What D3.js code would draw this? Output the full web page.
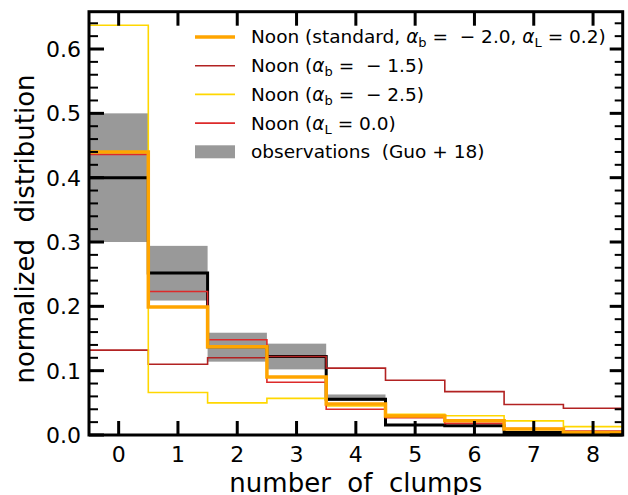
<!DOCTYPE html>
<html>
<head>
<meta charset="utf-8">
<script src="https://cdn.jsdelivr.net/npm/d3@7"></script>
<style>
body { margin: 0; background: #fff; }
text { font-family: "DejaVu Sans", sans-serif; fill: #000; }
</style>
</head>
<body>
<div id="chart"></div>
<script>
// clump number bins
var bins = [0, 1, 2, 3, 4, 5, 6, 7, 8];

// observations (Guo+18): value and band
var obsValue = [0.400, 0.252, 0.137, 0.122, 0.0556, 0.0155, 0.0145, 0.004, 0.002];
var obsLow   = [0.300, 0.209, 0.114, 0.102, 0.053, 0.0155, 0.0145, 0.004, 0.002];
var obsHigh  = [0.500, 0.294, 0.159, 0.142, 0.063, 0.0155, 0.0145, 0.004, 0.002];

// model runs
var standard = [0.440, 0.199, 0.137, 0.090, 0.048, 0.0296, 0.022, 0.0093, 0.004];
var alphaB15 = [0.132, 0.110, 0.120, 0.122, 0.104, 0.085, 0.0675, 0.0475, 0.0416];
var alphaB25 = [0.637, 0.066, 0.050, 0.057, 0.045, 0.032, 0.030, 0.022, 0.013];
var alphaL00 = [0.436, 0.223, 0.148, 0.082, 0.040, 0.027, 0.018, 0.010, 0.006];

var yTicks = [0.0, 0.1, 0.2, 0.3, 0.4, 0.5, 0.6];

var W = 628, H = 495;
var plotL = 89, plotR = 622.7, plotT = 11.7, plotB = 435;

var svg = d3.select("#chart").append("svg")
	.attr("width", W)
	.attr("height", H);

var x = d3.scaleLinear().domain([-0.5, 8.5]).range([plotL, plotR]);
var y = d3.scaleLinear().domain([0, 0.658]).range([plotB, plotT]);

// gray bands
svg.append("g").selectAll("rect")
	.data(bins)
	.enter().append("rect")
		.attr("x", (d) => x(d - 0.5))
		.attr("width", (d) => x(d + 0.5) - x(d - 0.5))
		.attr("y", (d) => y(obsHigh[d]))
		.attr("height", (d) => y(obsLow[d]) - y(obsHigh[d]))
		.attr("fill", "#999999");

function stepPoints(vals) {
	var pts = vals.map((v, i) => [i - 0.5, v]);
	pts.push([8.5, vals[vals.length - 1]]);
	return pts;
}

var line = d3.line()
	.x((d) => x(d[0]))
	.y((d) => y(d[1]))
	.curve(d3.curveStepAfter);

var series = [
	{vals: obsValue, color: "#000000", w: 3},
	{vals: alphaB15, color: "#b22222", w: 1.6},
	{vals: alphaB25, color: "#ffd700", w: 1.6},
	{vals: alphaL00, color: "#dd2a2a", w: 1.6},
	{vals: standard, color: "#ffa500", w: 3.5}
];

svg.append("g").selectAll("path")
	.data(series)
	.enter().append("path")
		.attr("d", (d) => line(stepPoints(d.vals)))
		.attr("fill", "none")
		.attr("stroke", (d) => d.color)
		.attr("stroke-width", (d) => d.w)
		.attr("stroke-linejoin", "miter");

// axes: inward ticks on all four sides
var axes = svg.append("g");
var yMinor = d3.range(0, 0.66, 0.02).filter((v) => Math.abs(Math.round(v * 10) - v * 10) > 0.01);

yTicks.forEach(function (t) {
	axes.append("line").attr("x1", plotL).attr("x2", plotL + 15).attr("y1", y(t)).attr("y2", y(t))
		.attr("stroke", "#000").attr("stroke-width", 3);
	axes.append("line").attr("x1", plotR).attr("x2", plotR - 13).attr("y1", y(t)).attr("y2", y(t))
		.attr("stroke", "#000").attr("stroke-width", 3);
	axes.append("text").attr("x", plotL - 8).attr("y", y(t)).attr("dy", "0.36em")
		.attr("text-anchor", "end").style("font-size", "22px").text(t.toFixed(1));
});
yMinor.forEach(function (t) {
	axes.append("line").attr("x1", plotL).attr("x2", plotL + 9).attr("y1", y(t)).attr("y2", y(t))
		.attr("stroke", "#000").attr("stroke-width", 2);
	axes.append("line").attr("x1", plotR).attr("x2", plotR - 8).attr("y1", y(t)).attr("y2", y(t))
		.attr("stroke", "#000").attr("stroke-width", 2);
});
bins.forEach(function (b) {
	axes.append("line").attr("x1", x(b)).attr("x2", x(b)).attr("y1", plotB).attr("y2", plotB - 14)
		.attr("stroke", "#000").attr("stroke-width", 3);
	axes.append("line").attr("x1", x(b)).attr("x2", x(b)).attr("y1", plotT).attr("y2", plotT + 14)
		.attr("stroke", "#000").attr("stroke-width", 3);
	axes.append("text").attr("x", x(b)).attr("y", plotB + 27)
		.attr("text-anchor", "middle").style("font-size", "22px").text(b);
});

axes.append("rect")
	.attr("x", plotL).attr("y", plotT)
	.attr("width", plotR - plotL).attr("height", plotB - plotT)
	.attr("fill", "none").attr("stroke", "#000").attr("stroke-width", 3);

// axis labels
svg.append("text")
	.attr("transform", "translate(25,229)rotate(-90)")
	.attr("text-anchor", "middle").attr("dy", "0.35em")
	.style("font-size", "26px").style("white-space", "pre")
	.text("normalized  distribution");

svg.append("text")
	.attr("x", (plotL + plotR) / 2).attr("y", 492)
	.attr("text-anchor", "middle")
	.style("font-size", "26px").style("white-space", "pre")
	.text("number  of  clumps");

// legend
var legendItems = [
	{parts: [["Noon (standard, ", ""], ["α", "i"], ["b", "s"], [" =  − 2.0, ", ""], ["α", "i"], ["L", "s"], [" = 0.2)", ""]], color: "#ffa500", w: 3.5},
	{parts: [["Noon (", ""], ["α", "i"], ["b", "s"], [" =  − 1.5)", ""]], color: "#b22222", w: 1.6},
	{parts: [["Noon (", ""], ["α", "i"], ["b", "s"], [" =  − 2.5)", ""]], color: "#ffd700", w: 1.6},
	{parts: [["Noon (", ""], ["α", "i"], ["L", "s"], [" = 0.0)", ""]], color: "#dd2a2a", w: 1.6},
	{parts: [["observations  (Guo + 18)", ""]], patch: true}
];

var leg = svg.append("g").attr("transform", "translate(195,37)");
legendItems.forEach(function (item, i) {
	var g = leg.append("g").attr("transform", "translate(0," + (i * 28.7) + ")");
	if (item.patch) {
		g.append("rect").attr("x", 0).attr("y", -6.5).attr("width", 40).attr("height", 13).attr("fill", "#999999");
	} else {
		g.append("line").attr("x1", 0).attr("x2", 40).attr("y1", 0).attr("y2", 0)
			.attr("stroke", item.color).attr("stroke-width", item.w);
	}
	var t = g.append("text").attr("x", 56).attr("y", 0).attr("dy", "0.35em")
		.style("font-size", "18.5px").style("white-space", "pre");
	var prevSub = false;
	item.parts.forEach(function (p, k) {
		var ts = t.append("tspan").text(p[0]);
		if (p[1] === "i") ts.style("font-style", "italic");
		if (p[1] === "s") ts.style("font-size", "13px").attr("dy", 4);
		else if (prevSub) ts.attr("dy", -4);
		prevSub = p[1] === "s";
	});
});
</script>
</body>
</html>
